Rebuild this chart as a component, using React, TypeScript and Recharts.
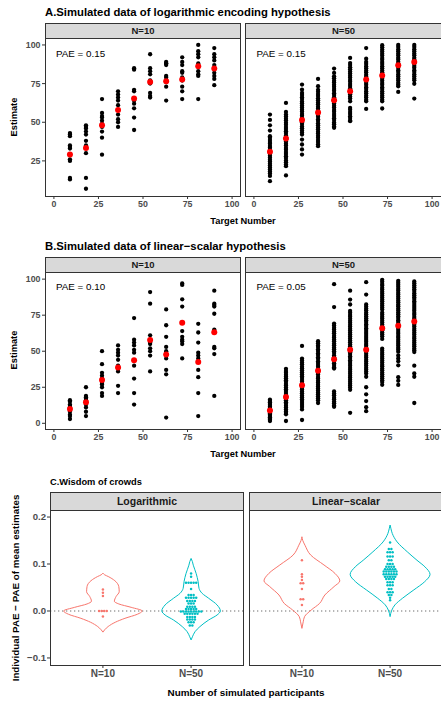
import React from 'react';
import { ScatterChart, Scatter, XAxis, YAxis, ReferenceLine } from 'recharts';

const FONT = '"Liberation Sans", Arial, Helvetica, sans-serif';

// ---------- Panels A & B ----------
const targets = [9, 18, 27, 36, 45, 54, 63, 72, 81, 90];
const xTicks = [0, 25, 50, 75, 100];
const yTicksA = [25, 50, 75, 100];
const yTicksB = [0, 25, 50, 75, 100];
const sampleLabels = ['N=10', 'N=50'];
const paeLog = ['PAE = 0.15', 'PAE = 0.15'];
const paeLin = ['PAE = 0.10', 'PAE = 0.05'];

const logN10 = [
  [43, 42, 41, 35, 34, 33, 26, 25, 14, 13],
  [48, 47, 46, 44, 42, 38, 35, 30, 14, 7],
  [65, 56, 54, 53, 51, 49, 47, 44, 40, 29],
  [70, 68, 66, 64, 61, 58, 55, 52, 50, 47],
  [85, 84, 71, 70, 65, 64, 62, 59, 53, 45],
  [94, 85, 83, 81, 77, 76, 75, 69, 67, 66],
  [89, 88, 88, 87, 80, 79, 77, 76, 73, 64],
  [92, 89, 87, 83, 82, 79, 77, 73, 70, 65],
  [100, 96, 94, 92, 88, 86, 83, 81, 80, 65],
  [98, 94, 92, 90, 87, 85, 82, 80, 78, 74],
];
const logN10Means = [29.1, 33.4, 48.1, 58.0, 65.3, 76.1, 76.5, 77.6, 86.2, 84.7];

const logN50 = [
  [55, 51.5, 48, 44.6, 41, 39.9, 38.6, 37.2, 36.1, 34.7, 33.5, 32.1, 30.9, 29.6, 28.3, 27.1, 25.7, 24.6, 23.2, 22, 20.7, 19.5, 18.1, 16.9, 15.3, 11.9],
  [62.5, 56.7, 55, 53.7, 52.3, 51.1, 49.6, 48.4, 46.9, 45.7, 44.2, 43, 41.5, 40.3, 38.8, 37.6, 36.1, 34.9, 33.4, 32.2, 30.7, 29.5, 28, 26.8, 25.3, 24.1, 22.6, 21.6, 15.6],
  [74.4, 71.1, 69, 67.7, 66.2, 65, 63.5, 62.3, 60.8, 59.6, 58.1, 56.9, 55.4, 54.2, 52.7, 51.5, 50, 48.8, 47.3, 46.1, 44.6, 43.3, 42, 38.8, 35.6, 32.4, 29.1],
  [78, 73.3, 71, 69.7, 68.2, 67, 65.5, 64.3, 62.8, 61.6, 60.1, 58.9, 57.4, 56.2, 54.7, 53.5, 52, 50.8, 49.3, 48.1, 46.6, 45.4, 43.9, 42.7, 41.2, 40, 38.5, 37.3, 35.8, 34.5],
  [84.7, 81.9, 79.7, 78.4, 76.9, 75.7, 74.2, 73, 71.5, 70.3, 68.8, 67.6, 66.1, 64.9, 63.4, 62.2, 60.7, 59.5, 58, 56.8, 55.3, 54.1, 52.6, 51.4, 49.9, 48.7, 47.2, 46.4],
  [91.6, 88.3, 87, 85.5, 84.3, 82.8, 81.6, 80.1, 78.9, 77.4, 76.2, 74.7, 73.5, 72, 70.8, 69.3, 68.1, 66.6, 65.4, 63.6, 59.3, 58.1, 56.6, 55.4, 53.9, 52.7, 51.2, 50.7],
  [98, 91.1, 89, 87.7, 86.2, 85, 83.5, 82.3, 80.8, 79.6, 78.1, 76.9, 75.4, 74.2, 72.7, 71.5, 70, 68.8, 67.3, 66.1, 64.6, 63.6, 58.6],
  [99.8, 98.5, 97, 95.8, 94.3, 93.1, 91.6, 90.4, 88.9, 87.7, 86.2, 85, 83.5, 82.3, 80.8, 79.6, 78.1, 76.9, 75.4, 74.2, 72.7, 71.5, 70, 68.8, 67.3, 66.1, 64.6, 63.6, 58.9],
  [100, 98.7, 97.2, 96, 94.5, 93.3, 91.8, 90.6, 89.1, 87.9, 86.4, 85.2, 83.7, 82.5, 81, 79.8, 78.3, 77.1, 75.6, 74.4, 73.3, 69.6],
  [100, 98.7, 97.2, 96, 94.5, 93.3, 91.8, 90.6, 89.1, 87.9, 86.4, 85.2, 83.7, 82.5, 81, 79.8, 78.3, 77.1, 74.9, 65.3],
];
const logN50Means = [30.9, 39.5, 51.5, 56.3, 64.2, 70.0, 77.6, 80.2, 86.8, 89.0];

const linN10 = [
  [16, 15, 13, 12, 11, 10, 8, 6, 5, 3],
  [25, 19, 18, 17, 16, 15, 13, 11, 8, 5],
  [50, 41, 35, 33, 31, 28, 27, 25, 21, 19],
  [54, 51, 49, 47, 44, 40, 38, 36, 26, 21],
  [73, 58, 56, 54, 51, 49, 40, 31, 21, 13],
  [91, 83, 61, 58, 56, 55, 52, 50, 47, 36],
  [79, 68, 60, 53, 50, 48, 45, 37, 34, 4],
  [97, 96, 86, 81, 64, 60, 58, 57, 55, 45],
  [69, 63, 56, 49, 47, 45, 37, 32, 21, 5],
  [92, 83, 82, 81, 76, 65, 53, 52, 48, 19],
];
const linN10Means = [10.0, 14.6, 30.1, 38.7, 43.7, 57.8, 47.8, 69.7, 42.6, 63.1];

const linN50 = [
  [16.4, 15.5, 14.6, 13.4, 12.7, 11.5, 10.6, 9.8, 8.7, 7.9, 6.8, 6, 5.1, 4.2, 3.1, 2.4, 1.6],
  [37.8, 36.2, 35.1, 33.6, 32.5, 31.2, 29.8, 28.9, 27.3, 26.2, 24.8, 23.6, 22.4, 21, 19.7, 18.6, 17.1, 16, 14.6, 13.5, 12.1, 10.9, 9.5, 8.2, 7.1, 6.2, 1.6],
  [53.7, 44.9, 43.6, 42.1, 40.9, 39.3, 38.2, 36.8, 35.4, 34.1, 32.7, 31.5, 30, 28.8, 27.2, 26.1, 24.7, 23.4, 22, 20.8, 19.3, 18.1, 16.7, 15.4, 14.1, 12.7, 11.3, 9.6, 2.3],
  [56.9, 55.6, 54, 52.9, 51.3, 50.1, 48.6, 47.4, 45.8, 44.7, 43.1, 41.9, 40.4, 39.2, 37.6, 36.5, 34.9, 33.8, 32.2, 31, 29.5, 28.3, 26.8, 25.5, 24.1, 22.8, 21.4, 20.1, 18.7, 17.4, 16, 14.1],
  [96.5, 80.6, 69.2, 67.9, 66.3, 65.1, 63.6, 62.4, 60.8, 59.6, 58.1, 56.9, 55.3, 54.2, 52.6, 51.4, 49.9, 48.7, 47.1, 45.9, 44.4, 43.2, 41.6, 40.4, 38.9, 38, 22.1, 20.6, 19.4, 17.8, 16.7, 15.1, 13.9, 12.4, 11.4],
  [92, 85.8, 82.4, 77.9, 76.6, 75.2, 73.9, 72.5, 71.1, 69.8, 68.3, 67.1, 65.6, 64.4, 62.9, 61.6, 60.2, 58.9, 57.4, 56.2, 54.7, 53.5, 52, 50.7, 49.3, 48, 46.5, 45.3, 43.8, 42.6, 41.1, 39.9, 38.4, 37.1, 35.7, 34.4, 32.9, 31.7, 30.2, 28.9, 27.5, 26.2, 24.8, 23.2, 7.3],
  [97.9, 89.3, 82.4, 81.1, 79.6, 78.4, 76.9, 75.6, 74.2, 72.9, 71.5, 70.2, 68.7, 67.5, 66, 64.7, 63.3, 62, 60.5, 59.2, 57.8, 56.5, 55, 53.8, 52.3, 51, 49.6, 48.3, 46.8, 45.6, 44.1, 42.8, 41.4, 40.1, 38.6, 37.4, 35.9, 34.6, 32.3, 25, 20.1, 15.4, 11.2, 8.4],
  [99.5, 98.2, 96.7, 95.5, 94, 92.8, 91.3, 90, 88.6, 87.3, 85.8, 84.6, 83.1, 81.8, 80.4, 79, 76.7, 75.4, 73.9, 72.7, 71.2, 69.9, 68.5, 67.2, 65.7, 64.5, 63, 61.8, 60.3, 58.5, 51.7, 50.4, 48.9, 47.7, 46.2, 44.9, 43.5, 42.2, 40.7, 39.5, 38, 36.8, 35.3, 34, 32.6, 31.3, 29.8, 28.6, 26.7],
  [98.8, 97.5, 96.1, 94.8, 93.3, 92.1, 90.6, 89.3, 87.9, 86.6, 85.1, 83.9, 82.4, 81.2, 79.7, 78.4, 77, 75.7, 74.2, 73, 71.5, 70.3, 68.8, 67.5, 66.1, 64.8, 63.3, 62.1, 60.6, 59.4, 57.9, 56.6, 55.2, 53.9, 52.4, 51.2, 49.7, 47.1, 45, 43, 40.2, 32, 29.5, 26.6],
  [98.4, 97.1, 95.7, 94.4, 92.9, 91.7, 90.2, 88.9, 87.5, 86.2, 84.7, 83.5, 82, 80.7, 79.3, 78, 76.5, 75.3, 73.8, 72.5, 71.1, 69.8, 68.3, 67.1, 65.6, 64.3, 62.9, 61.6, 60.1, 58.9, 57.4, 56.1, 54.7, 53.4, 51.9, 50.7, 49.4, 40, 34.6, 32.3, 14.1],
];
const linN50Means = [8.9, 18.2, 26.4, 36.4, 44.4, 51.0, 51.0, 66.0, 67.6, 70.6];

// ---------- Panel C ----------
const hypothesisLabels = ['Logarithmic', 'Linear\u2212scalar'];
const cTicks = [-0.1, 0, 0.1, 0.2];
const COL10 = '#F8766D';
const COL50 = '#00BFC4';

// violin outlines: [value, half width in x units], top to bottom
const violinLogN10 = [[0.0805, 0], [0.077, 0.02], [0.0734, 0.06], [0.0645, 0.135], [0.052, 0.18], [0.041, 0.185], [0.031, 0.15], [0.0206, 0.13], [0.015, 0.18], [0.0078, 0.32], [0.0, 0.445], [-0.007, 0.39], [-0.0156, 0.25], [-0.024, 0.14], [-0.033, 0.06], [-0.04, 0.02], [-0.045, 0]];
const violinLogN50 = [[0.1119, 0], [0.105, 0.015], [0.0975, 0.025], [0.0801, 0.057], [0.0624, 0.08], [0.0482, 0.09], [0.0376, 0.125], [0.027, 0.2], [0.0128, 0.295], [0.0, 0.332], [-0.0085, 0.295], [-0.0191, 0.2], [-0.0333, 0.1], [-0.044, 0.045], [-0.055, 0.015], [-0.0617, 0]];
const violinLinN10 = [[0.158, 0], [0.15, 0.01], [0.14, 0.035], [0.119, 0.1], [0.098, 0.25], [0.08, 0.375], [0.064, 0.43], [0.052, 0.365], [0.034, 0.26], [0.016, 0.2], [0.002, 0.105], [-0.012, 0.03], [-0.023, 0.015], [-0.037, 0]];
const violinLinN50 = [[0.183, 0], [0.175, 0.01], [0.165, 0.025], [0.147, 0.08], [0.126, 0.195], [0.108, 0.305], [0.094, 0.395], [0.078, 0.453], [0.062, 0.39], [0.045, 0.27], [0.027, 0.14], [0.013, 0.055], [0.002, 0.02], [-0.012, 0]];

const dotsLogN10 = [0.046, 0.039, 0.032, 0, 0, 0, 0, -0.012];
const dotsLogN50 = [
  0.080, 0.073,
  0.060, 0.060, 0.060, 0.060, 0.060,
  0.047,
  0.034, 0.034, 0.034,
  0.028, 0.028, 0.028, 0.028, 0.028,
  0.021, 0.021, 0.021, 0.021,
  0.016, 0.016, 0.016,
  0.009, 0.009, 0.009, 0.009,
  0.004, 0.004, 0.004, 0.004, 0.004,
  -0.001, -0.001, -0.001, -0.001, -0.001, -0.001, -0.001, -0.001, -0.001,
  -0.006, -0.006, -0.006, -0.006, -0.006, -0.006,
  -0.013, -0.013, -0.013, -0.013,
  -0.018, -0.018, -0.018, -0.018,
  -0.024, -0.024, -0.024,
  -0.031, -0.031,
];
const dotsLinN10 = [0.108, 0.078, 0.073, 0.066, 0.059, 0.059, 0.047, 0.025, 0.025, 0.013];
const dotsLinN50 = [
  0.146,
  0.132, 0.132,
  0.125, 0.125, 0.125,
  0.116, 0.116, 0.116,
  0.108, 0.108,
  0.100, 0.100, 0.100,
  0.094, 0.094, 0.094, 0.094,
  0.089, 0.089, 0.089, 0.089, 0.089,
  0.084, 0.084, 0.084, 0.084, 0.084, 0.084,
  0.078, 0.078, 0.078, 0.078, 0.078, 0.078,
  0.073, 0.073, 0.073, 0.073, 0.073,
  0.068, 0.068, 0.068, 0.068,
  0.061, 0.061, 0.061,
  0.055, 0.055, 0.055,
  0.047, 0.047,
  0.040, 0.040, 0.040,
  0.034, 0.034,
  0.028,
  0.023,
];

// ---------- helpers ----------
const toPoints = (cols: number[][]) =>
  cols.flatMap((col, i) => col.map((y) => ({ x: targets[i], y })));
const toMeans = (means: number[]) => means.map((y, i) => ({ x: targets[i], y }));

const DOT_STEP = 0.029;
function stackDots(values: number[], center: number) {
  const groups = new Map<number, number>();
  values.forEach((v) => groups.set(v, (groups.get(v) || 0) + 1));
  const out: { x: number; y: number }[] = [];
  groups.forEach((n, v) => {
    for (let i = 0; i < n; i++) out.push({ x: center + (i - (n - 1) / 2) * DOT_STEP, y: v });
  });
  return out;
}
const halfOutline = (outline: number[][], center: number, side: number) =>
  outline.map(([v, w]) => ({ x: center + side * w, y: v }));

const BlackDot = (p: any) => <circle cx={p.cx} cy={p.cy} r={2.15} fill="#000000" />;
const RedDot = (p: any) => <circle cx={p.cx} cy={p.cy} r={3} fill="#FF0000" />;
const NoDot = () => <g />;
const makeSmallDot = (color: string) => (p: any) => <circle cx={p.cx} cy={p.cy} r={1.25} fill={color} />;
const Dot10 = makeSmallDot(COL10);
const Dot50 = makeSmallDot(COL50);

const BORDER = '#333333';
const TICKCOL = '#4D4D4D';

function Text({ x, y, size, bold, color, align, children }: any) {
  const style: any = {
    position: 'absolute',
    top: y - size / 2,
    height: size,
    lineHeight: `${size}px`,
    fontSize: size,
    fontWeight: bold ? 'bold' : 'normal',
    color: color || '#000',
    whiteSpace: 'nowrap',
    fontFamily: FONT,
  };
  if (align === 'center') {
    style.left = x;
    style.transform = 'translateX(-50%)';
  } else {
    style.left = x;
  }
  return <div style={style}>{children}</div>;
}

function VText({ x, y, size, children }: any) {
  return (
    <div
      style={{
        position: 'absolute',
        left: x,
        top: y,
        transform: 'translate(-50%, -50%) rotate(-90deg)',
        fontSize: size,
        fontWeight: 'bold',
        lineHeight: `${size}px`,
        whiteSpace: 'nowrap',
        fontFamily: FONT,
        color: '#000',
      }}
    >
      {children}
    </div>
  );
}

function Strip({ left, top, width, height, size, label }: any) {
  return (
    <div
      style={{
        position: 'absolute',
        left,
        top,
        width,
        height,
        boxSizing: 'border-box',
        background: '#D9D9D9',
        border: `1px solid ${BORDER}`,
        fontFamily: FONT,
        fontWeight: 'bold',
        fontSize: size,
        color: '#1A1A1A',
        textAlign: 'center',
        lineHeight: `${height - 2}px`,
      }}
    >
      {label}
    </div>
  );
}

function Border({ left, top, width, height }: any) {
  return (
    <div
      style={{
        position: 'absolute',
        left,
        top,
        width,
        height,
        boxSizing: 'border-box',
        border: `1px solid ${BORDER}`,
        pointerEvents: 'none',
      }}
    />
  );
}

function ScatterPanel({ left, top, plotW, plotH, showY, yDomain, yTicks, cols, means }: any) {
  const yw = showY ? 45 : 0;
  const pts = toPoints(cols);
  const mpts = toMeans(means);
  return (
    <div style={{ position: 'absolute', left: left - yw, top }}>
      <ScatterChart width={plotW + yw} height={plotH + 30} margin={{ top: 0, right: 0, bottom: 0, left: 0 }}>
        <XAxis
          type="number"
          dataKey="x"
          domain={[-5, 105]}
          ticks={xTicks}
          interval={0}
          allowDataOverflow
          height={30}
          tickSize={3}
          tickMargin={1.5}
          axisLine={false}
          tickLine={{ stroke: BORDER }}
          tick={{ fill: TICKCOL, fontSize: 8.8, fontWeight: 'bold', fontFamily: FONT }}
        />
        <YAxis
          type="number"
          dataKey="y"
          domain={yDomain}
          ticks={yTicks}
          interval={0}
          allowDataOverflow
          width={45}
          hide={!showY}
          tickSize={3}
          tickMargin={1.5}
          axisLine={false}
          tickLine={{ stroke: BORDER }}
          tick={{ fill: TICKCOL, fontSize: 8.8, fontWeight: 'bold', fontFamily: FONT }}
        />
        <Scatter data={pts} shape={BlackDot} isAnimationActive={false} />
        <Scatter data={mpts} shape={RedDot} isAnimationActive={false} />
      </ScatterChart>
    </div>
  );
}

function ViolinPanel({ left, top, plotW, plotH, showY, v10, v50, d10, d50 }: any) {
  const yw = showY ? 50 : 0;
  const fmt = (v: number) => (v < 0 ? '\u2212' + Math.abs(v).toFixed(1) : v.toFixed(1));
  return (
    <div style={{ position: 'absolute', left: left - yw, top }}>
      <ScatterChart width={plotW + yw} height={plotH + 30} margin={{ top: 0, right: 0, bottom: 0, left: 0 }}>
        <XAxis
          type="number"
          dataKey="x"
          domain={[0.4, 2.6]}
          ticks={[1, 2]}
          interval={0}
          allowDataOverflow
          height={30}
          tickSize={3}
          tickMargin={2}
          axisLine={false}
          tickFormatter={(v: number) => sampleLabels[v - 1]}
          tickLine={{ stroke: BORDER }}
          tick={{ fill: TICKCOL, fontSize: 10, fontWeight: 'bold', fontFamily: FONT }}
        />
        <YAxis
          type="number"
          dataKey="y"
          domain={[-0.115, 0.215]}
          ticks={cTicks}
          interval={0}
          allowDataOverflow
          width={50}
          hide={!showY}
          tickSize={3}
          tickMargin={1}
          axisLine={false}
          tickFormatter={fmt}
          tickLine={{ stroke: BORDER }}
          tick={{ fill: TICKCOL, fontSize: 9.6, fontWeight: 'bold', fontFamily: FONT }}
        />
        <ReferenceLine y={0} stroke="#6E6E6E" strokeWidth={1.1} strokeDasharray="1.3 2.7" />
        <Scatter data={halfOutline(v10, 1, 1)} line={{ stroke: COL10, strokeWidth: 1 }} lineJointType="monotoneY" shape={NoDot} isAnimationActive={false} />
        <Scatter data={halfOutline(v10, 1, -1)} line={{ stroke: COL10, strokeWidth: 1 }} lineJointType="monotoneY" shape={NoDot} isAnimationActive={false} />
        <Scatter data={halfOutline(v50, 2, 1)} line={{ stroke: COL50, strokeWidth: 1 }} lineJointType="monotoneY" shape={NoDot} isAnimationActive={false} />
        <Scatter data={halfOutline(v50, 2, -1)} line={{ stroke: COL50, strokeWidth: 1 }} lineJointType="monotoneY" shape={NoDot} isAnimationActive={false} />
        <Scatter data={stackDots(d10, 1)} shape={Dot10} isAnimationActive={false} />
        <Scatter data={stackDots(d50, 2)} shape={Dot50} isAnimationActive={false} />
      </ScatterChart>
    </div>
  );
}

export default function App() {
  return (
    <div
      style={{
        position: 'absolute',
        left: 0,
        top: 0,
        width: 441,
        height: 701,
        overflow: 'hidden',
        background: '#FFFFFF',
        fontFamily: FONT,
      }}
    >
      {/* ---------- A ---------- */}
      <Text x={45} y={13} size={11.3} bold>A.Simulated data of logarithmic encoding hypothesis</Text>
      <Strip left={45} top={23} width={196} height={16} size={9.5} label={sampleLabels[0]} />
      <Strip left={245} top={23} width={197} height={16} size={9.5} label={sampleLabels[1]} />
      <ScatterPanel left={45} top={38} plotW={196} plotH={158} showY yDomain={[2.3, 104.5]} yTicks={yTicksA} cols={logN10} means={logN10Means} />
      <ScatterPanel left={245} top={38} plotW={196} plotH={158} showY={false} yDomain={[2.3, 104.5]} yTicks={yTicksA} cols={logN50} means={logN50Means} />
      <Border left={45} top={38} width={196} height={159} />
      <Border left={245} top={38} width={197} height={159} />
      <Text x={56} y={54} size={9.8}>{paeLog[0]}</Text>
      <Text x={256.5} y={54} size={9.8}>{paeLog[1]}</Text>
      <VText x={15} y={117} size={9.3}>Estimate</VText>
      <Text x={243} y={222} size={9.3} bold align="center">Target Number</Text>

      {/* ---------- B ---------- */}
      <Text x={45} y={247} size={11.3} bold>B.Simulated data of linear{'\u2212'}scalar hypothesis</Text>
      <Strip left={45} top={257} width={196} height={16} size={9.5} label={sampleLabels[0]} />
      <Strip left={245} top={257} width={197} height={16} size={9.5} label={sampleLabels[1]} />
      <ScatterPanel left={45} top={272} plotW={196} plotH={157} showY yDomain={[-3.95, 104.95]} yTicks={yTicksB} cols={linN10} means={linN10Means} />
      <ScatterPanel left={245} top={272} plotW={196} plotH={157} showY={false} yDomain={[-3.95, 104.95]} yTicks={yTicksB} cols={linN50} means={linN50Means} />
      <Border left={45} top={272} width={196} height={158} />
      <Border left={245} top={272} width={197} height={158} />
      <Text x={56} y={287} size={9.8}>{paeLin[0]}</Text>
      <Text x={256.5} y={287} size={9.8}>{paeLin[1]}</Text>
      <VText x={15} y={350} size={9.3}>Estimate</VText>
      <Text x={243} y={455} size={9.3} bold align="center">Target Number</Text>

      {/* ---------- C ---------- */}
      <Text x={50} y={483} size={9.3} bold>C.Wisdom of crowds</Text>
      <Strip left={50} top={492} width={194} height={19} size={10.5} label={hypothesisLabels[0]} />
      <Strip left={249} top={492} width={194} height={19} size={10.5} label={hypothesisLabels[1]} />
      <ViolinPanel left={50} top={510} plotW={194} plotH={155} showY v10={violinLogN10} v50={violinLogN50} d10={dotsLogN10} d50={dotsLogN50} />
      <ViolinPanel left={249} top={510} plotW={194} plotH={155} showY={false} v10={violinLinN10} v50={violinLinN50} d10={dotsLinN10} d50={dotsLinN50} />
      <Border left={50} top={510} width={194} height={156} />
      <Border left={249} top={510} width={194} height={156} />
      <VText x={15.5} y={587.5} size={9.8}>Individual PAE {'\u2212'} PAE of mean estimates</VText>
      <Text x={246} y={693} size={9.9} bold align="center">Number of simulated participants</Text>
    </div>
  );
}
